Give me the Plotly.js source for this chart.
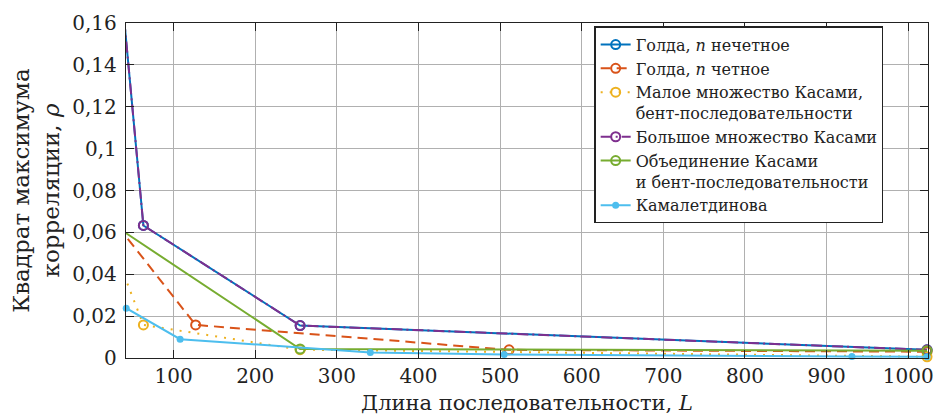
<!DOCTYPE html>
<html>
<head>
<meta charset="utf-8">
<script src="https://cdn.plot.ly/plotly-3.0.1.min.js"></script>
<style>html,body{margin:0;padding:0;background:#fff;}#chart{width:935px;height:420px;}</style>
</head>
<body>
<div id="chart"></div>
<script>
// ---- data ----
const seriesNames = [
  'Голда, <i>n</i> нечетное',
  'Голда, <i>n</i> четное',
  'Малое множество Касами,<br>бент-последовательности',
  'Большое множество Касами',
  'Объединение Касами<br>и бент-последовательности',
  'Камалетдинова'
];
const xGoldOdd = [31, 63, 255, 1023];
const yGoldOdd = [0.197, 0.0633, 0.0155, 0.0039];
const xGoldEven = [31, 127, 511, 1023];
const yGoldEven = [0.0633, 0.0158, 0.0039, 0.0030];
const xKasamiSmall = [31, 63, 255, 1023];
const yKasamiSmall = [0.048, 0.0158, 0.0040, 0.0006];
const xKasamiLarge = [31, 63, 255, 1023];
const yKasamiLarge = [0.197, 0.0633, 0.0155, 0.0039];
const xUnion = [31, 255, 1023];
const yUnion = [0.0624, 0.0043, 0.0035];
const xKamal = [42, 108, 341, 505, 931, 1023];
const yKamal = [0.0238, 0.0090, 0.0026, 0.0017, 0.0007, 0.0006];
const yTickVals = [0, 0.02, 0.04, 0.06, 0.08, 0.1, 0.12, 0.14, 0.16];
const yTickText = ['0', '0,02', '0,04', '0,06', '0,08', '0,1', '0,12', '0,14', '0,16'];
const xTickVals = [100, 200, 300, 400, 500, 600, 700, 800, 900, 1000];
const xTickText = ['100', '200', '300', '400', '500', '600', '700', '800', '900', '1000'];

const colors = ['#0072BD', '#D95319', '#EDB120', '#7E2F8E', '#77AC30', '#4DBEEE'];
const X_MIN = 41.7, X_MAX = 1024.2;

// points left of the visible x-range keep their line segment (clipped) but get no marker;
// arrays are traversed from the right so the legend picks a visible marker colour
function openTrace(xs, ys, i, dash) {
  const rx = xs.slice().reverse(), ry = ys.slice().reverse();
  return {
    x: rx, y: ry, name: seriesNames[i], type: 'scatter', mode: 'lines+markers',
    cliponaxis: false, legendrank: i + 1,
    line: {color: colors[i], width: 2, dash: dash},
    marker: {symbol: 'circle-open', size: 9,
             color: rx.map(v => (v < X_MIN ? 'rgba(0,0,0,0)' : colors[i])),
             line: {width: 2}}
  };
}

const traces = [
  openTrace(xGoldOdd, yGoldOdd, 0, 'solid'),
  openTrace(xGoldEven, yGoldEven, 1, '10px,6px'),
  openTrace(xKasamiSmall, yKasamiSmall, 2, '2px,7px'),
  openTrace(xKasamiLarge, yKasamiLarge, 3, '11px,4px,2px,4px'),
  openTrace(xUnion, yUnion, 4, 'solid'),
  {
    x: xKamal, y: yKamal, name: seriesNames[5], type: 'scatter', mode: 'lines+markers',
    cliponaxis: false, legendrank: 6,
    line: {color: colors[5], width: 2},
    marker: {symbol: 'circle', size: 7, color: colors[5]}
  }
];

const fontFam = 'DejaVu Serif';
const layout = {
  width: 935, height: 420,
  margin: {l: 125.7, r: 6.6, t: 23.3, b: 61.9},
  paper_bgcolor: '#fff', plot_bgcolor: '#fff',
  font: {family: fontFam, size: 20, color: '#222'},
  showlegend: true,
  legend: {
    x: 0.584, y: 0.99, xanchor: 'left', yanchor: 'top',
    bgcolor: '#fff', bordercolor: '#222', borderwidth: 1.3,
    font: {family: fontFam, size: 16, color: '#222'},
    valign: 'top', tracegroupgap: 0
  },
  xaxis: {
    range: [X_MIN, X_MAX],
    tickvals: xTickVals, ticktext: xTickText,
    ticks: 'inside', ticklen: 8, tickcolor: '#222', tickwidth: 1,
    showgrid: true, gridcolor: '#b0b0b0', gridwidth: 1,
    showline: true, linecolor: '#222', linewidth: 1.2, mirror: 'ticks',
    zeroline: false,
    tickfont: {family: fontFam, size: 20, color: '#222'},
    title: {text: 'Длина последовательности, <i>L</i>', font: {family: fontFam, size: 21, color: '#222'}, standoff: 8}
  },
  yaxis: {
    range: [0, 0.16],
    tickvals: yTickVals, ticktext: yTickText,
    ticks: 'inside', ticklen: 8, tickcolor: '#222', tickwidth: 1,
    showgrid: true, gridcolor: '#b0b0b0', gridwidth: 1,
    showline: true, linecolor: '#222', linewidth: 1.2, mirror: 'ticks',
    zeroline: false,
    ticklabelstandoff: 4,
    tickfont: {family: fontFam, size: 20, color: '#222'},
    title: {text: 'Квадрат максимума<br>корреляции, <i>ρ</i>', font: {family: fontFam, size: 23, color: '#222'}, standoff: 6}
  }
};

Plotly.newPlot('chart', traces, layout, {staticPlot: true, displayModeBar: false});
</script>
</body>
</html>
